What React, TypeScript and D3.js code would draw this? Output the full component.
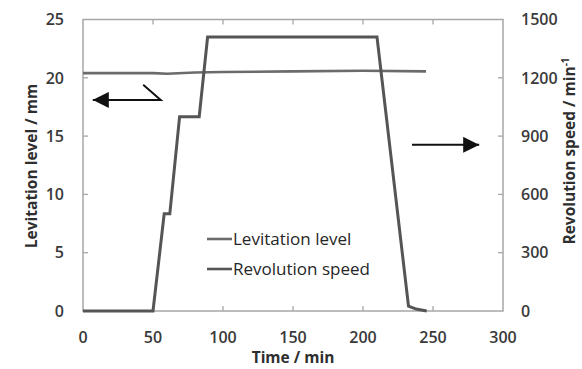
import { useEffect, useRef } from "react";
import * as d3 from "d3";

// levitation level (left axis, mm)
const levTime = [0, 50, 60, 80, 100, 150, 200, 245];
const levMm = [20.4, 20.4, 20.35, 20.45, 20.5, 20.55, 20.6, 20.55];

// revolution speed (right axis, min^-1)
const revTime = [0, 50, 58, 62, 69, 83, 89, 210, 232.5, 238, 245.5];
const revSpeed = [0, 0, 500, 500, 1000, 1000, 1410, 1410, 25, 10, 0];

const xTicks = [0, 50, 100, 150, 200, 250, 300];
const yLeftTicks = [0, 5, 10, 15, 20, 25];
const yRightTicks = [0, 300, 600, 900, 1200, 1500];
const legendNames = ["Levitation level", "Revolution speed"];

const W = 582;
const H = 369;
const font = "'Open Sans', 'Noto Sans', sans-serif";

const App = () => {
  const ref = useRef<SVGSVGElement | null>(null);

  useEffect(() => {
    if (!ref.current) return;
    const svg = d3.select(ref.current);
    svg.selectAll("*").remove();

    const x = d3.scaleLinear().domain([0, 300]).range([83, 503]);
    const yL = d3.scaleLinear().domain([0, 25]).range([311, 19.5]);
    const yR = d3.scaleLinear().domain([0, 1500]).range([311, 19.5]);

    const frame = "#a6a6a6";
    const tickColor = "#3a3a3a";

    // arrow marker
    svg
      .append("defs")
      .append("marker")
      .attr("id", "tri")
      .attr("viewBox", "0 0 10 10")
      .attr("refX", 10)
      .attr("refY", 5)
      .attr("markerWidth", 16)
      .attr("markerHeight", 16)
      .attr("markerUnits", "userSpaceOnUse")
      .attr("orient", "auto")
      .append("path")
      .attr("d", "M0,0 L10,5 L0,10 Z")
      .attr("fill", "#111");

    // frame
    svg
      .append("rect")
      .attr("x", x(0))
      .attr("y", yL(25))
      .attr("width", x(300) - x(0))
      .attr("height", yL(0) - yL(25))
      .attr("fill", "none")
      .attr("stroke", frame)
      .attr("stroke-width", 1.5);

    // ticks inside the frame
    const tk = svg.append("g").attr("stroke", frame).attr("stroke-width", 1.3);
    xTicks.slice(1, -1).forEach(t => {
      tk.append("line").attr("x1", x(t)).attr("x2", x(t)).attr("y1", yL(0)).attr("y2", yL(0) - 5);
      tk.append("line").attr("x1", x(t)).attr("x2", x(t)).attr("y1", yL(25)).attr("y2", yL(25) + 5);
    });
    yLeftTicks.slice(1, -1).forEach(t => {
      tk.append("line").attr("x1", x(0)).attr("x2", x(0) + 5).attr("y1", yL(t)).attr("y2", yL(t));
    });
    yRightTicks.slice(1, -1).forEach(t => {
      tk.append("line").attr("x1", x(300)).attr("x2", x(300) - 5).attr("y1", yR(t)).attr("y2", yR(t));
    });

    // tick labels
    const lab = svg
      .append("g")
      .attr("font-family", font)
      .attr("font-size", 16)
      .attr("font-weight", 600)
      .attr("fill", tickColor);
    xTicks.forEach(t => {
      lab.append("text").attr("x", x(t)).attr("y", 342.5).attr("text-anchor", "middle").text(t);
    });
    yLeftTicks.forEach(t => {
      lab.append("text").attr("x", 64).attr("y", yL(t)).attr("dy", "0.36em").attr("text-anchor", "end").text(t);
    });
    yRightTicks.forEach(t => {
      lab.append("text").attr("x", 521).attr("y", yR(t)).attr("dy", "0.36em").attr("text-anchor", "start").text(t);
    });

    // axis titles
    const ttl = svg
      .append("g")
      .attr("font-family", font)
      .attr("font-size", 15.5)
      .attr("font-weight", 700)
      .attr("fill", "#2e2e2e");
    ttl.append("text").attr("x", 293).attr("y", 363).attr("text-anchor", "middle").text("Time / min");
    ttl
      .append("text")
      .attr("transform", "translate(37,166) rotate(-90)")
      .attr("text-anchor", "middle")
      .text("Levitation level / mm");
    const rt = ttl
      .append("text")
      .attr("transform", "translate(575,151) rotate(-90)")
      .attr("text-anchor", "middle");
    rt.append("tspan").text("Revolution speed / min");
    rt.append("tspan").attr("dy", -6).attr("font-size", 10).text("-1");

    // data lines
    const lineL = d3
      .line<number>()
      .x((_, i) => x(levTime[i]))
      .y(d => yL(d));
    const lineR = d3
      .line<number>()
      .x((_, i) => x(revTime[i]))
      .y(d => yR(d));

    svg
      .append("path")
      .attr("d", lineL(levMm)!)
      .attr("fill", "none")
      .attr("stroke", "#6b6b6b")
      .attr("stroke-width", 2.6);
    svg
      .append("path")
      .attr("d", lineR(revSpeed)!)
      .attr("fill", "none")
      .attr("stroke", "#555")
      .attr("stroke-width", 3);

    // legend
    const lg = svg
      .append("g")
      .attr("font-family", font)
      .attr("font-size", 17)
      .attr("fill", "#262626");
    legendNames.forEach((name, i) => {
      const yy = 239 + i * 30;
      lg.append("line")
        .attr("x1", 207)
        .attr("x2", 232)
        .attr("y1", yy)
        .attr("y2", yy)
        .attr("stroke", i === 0 ? "#6b6b6b" : "#555")
        .attr("stroke-width", 2.6);
      lg.append("text").attr("x", 233).attr("y", yy).attr("dy", "0.35em").text(name);
    });

    // annotation arrows
    const ann = svg.append("g").attr("stroke", "#111").attr("stroke-width", 2).attr("fill", "none");
    ann
      .append("polyline")
      .attr("points", `${x(43)},${yL(19.4)} ${x(55.5)},${yL(18.1)} ${x(7)},${yL(18.1)}`)
      .attr("marker-end", "url(#tri)");
    ann
      .append("line")
      .attr("x1", x(235)).attr("y1", yR(855))
      .attr("x2", x(283)).attr("y2", yR(855))
      .attr("marker-end", "url(#tri)");
  }, []);

  return (
    <svg
      ref={ref}
      width={W}
      height={H}
      viewBox={`0 0 ${W} ${H}`}
      style={{ position: "absolute", left: 0, top: 0, background: "#fff" }}
    />
  );
};

export default App;
